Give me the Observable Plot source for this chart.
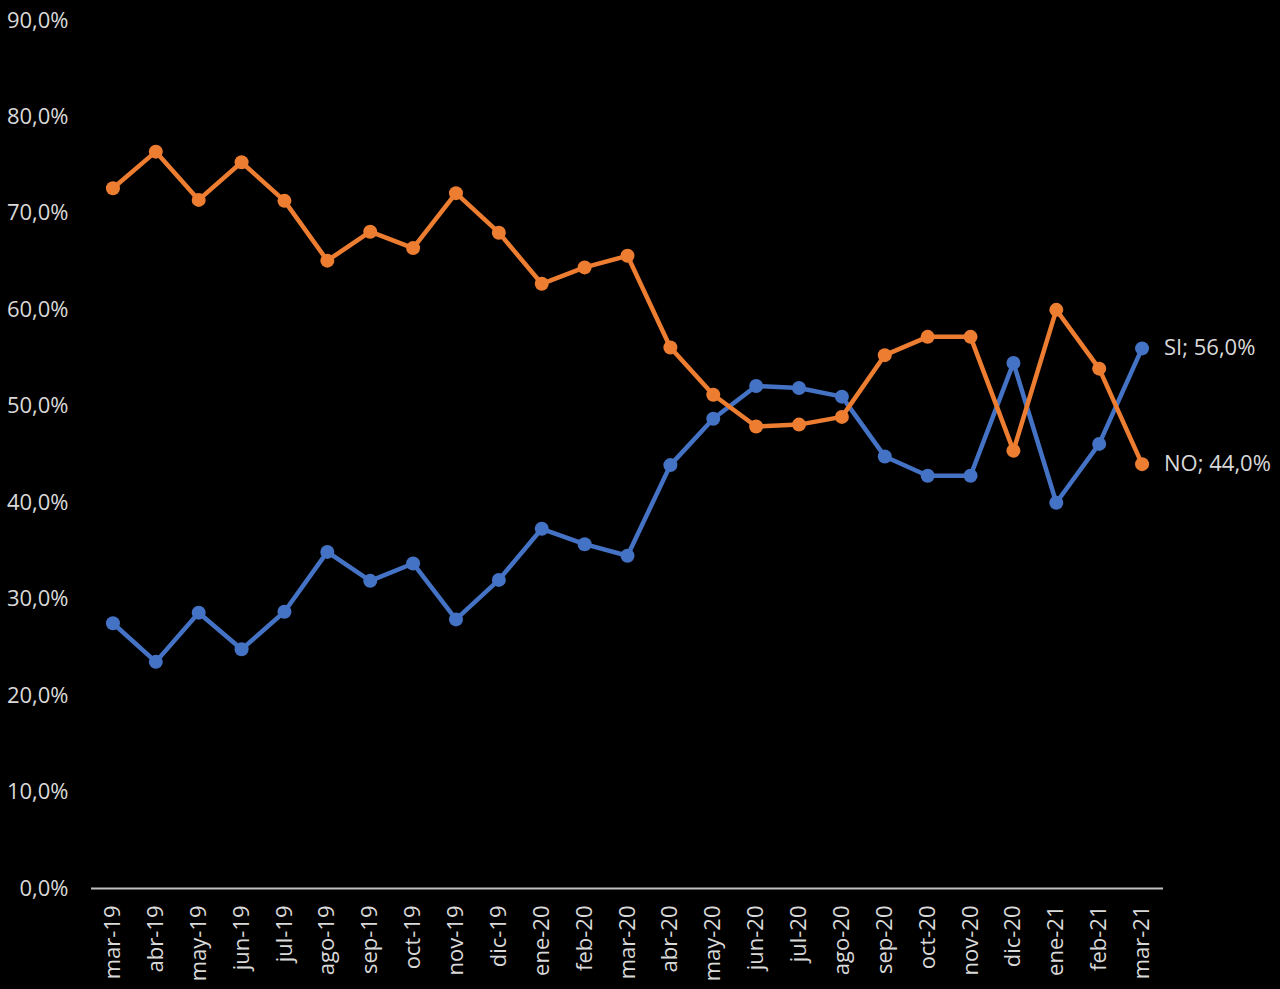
<!DOCTYPE html>
<html>
<head>
<meta charset="utf-8">
<script src="https://cdn.jsdelivr.net/npm/d3@7"></script>
<script src="https://cdn.jsdelivr.net/npm/@observablehq/plot@0.6"></script>
<style>
  html, body { margin: 0; padding: 0; background: #000; }
  #chart svg { display: block; }
</style>
</head>
<body>
<div id="chart"></div>
<script>
// Monthly poll: share answering SI vs NO
const months = ["mar-19","abr-19","may-19","jun-19","jul-19","ago-19","sep-19","oct-19","nov-19","dic-19",
  "ene-20","feb-20","mar-20","abr-20","may-20","jun-20","jul-20","ago-20","sep-20","oct-20","nov-20","dic-20",
  "ene-21","feb-21","mar-21"];
const si = [27.5,23.5,28.6,24.8,28.7,34.9,31.9,33.7,27.9,32.0,37.3,35.7,34.5,43.9,48.7,52.1,51.9,51.0,44.8,42.8,42.8,54.5,40.0,46.1,56.0];
const no = [72.6,76.4,71.4,75.3,71.3,65.1,68.1,66.4,72.1,68.0,62.7,64.4,65.6,56.1,51.2,47.9,48.1,48.9,55.3,57.2,57.2,45.4,60.0,53.9,44.0];
const yTicks = [0,10,20,30,40,50,60,70,80,90];
const seriesNames = ["SI", "NO"];
const seriesColors = ["#4472C4", "#ED7D31"];

const fmt = v => v.toFixed(1).replace(".", ",") + "%";

const rows = [];
months.forEach((m, i) => {
  rows.push({month: m, serie: "SI", value: si[i]});
  rows.push({month: m, serie: "NO", value: no[i]});
});
const last = months.length - 1;
const endLabels = [
  {month: months[last], serie: "SI", value: si[last]},
  {month: months[last], serie: "NO", value: no[last]}
];

const textColor = "#d9d9d9";
const font = "'Open Sans', Lato, sans-serif";

const chart = Plot.plot({
  width: 1280,
  height: 989,
  marginLeft: 91,
  marginRight: 117,
  marginTop: 20,
  marginBottom: 101,
  style: {background: "#000", color: textColor, fontFamily: font, fontSize: "22px"},
  x: {type: "point", domain: months, padding: 0.5, round: false, label: null},
  y: {domain: [0, 90], label: null},
  color: {domain: seriesNames, range: seriesColors},
  marks: [
    Plot.axisY({ticks: yTicks, tickFormat: fmt, tickSize: 0, tickPadding: 23, label: null,
      fill: textColor, fontSize: 22}),
    Plot.axisX({tickRotate: -90, tickSize: 0, tickPadding: 17, label: null,
      fill: textColor, fontSize: 22}),
    Plot.ruleY([0], {stroke: "#bfbfbf", strokeWidth: 2}),
    Plot.line(rows, {x: "month", y: "value", z: "serie", stroke: "serie", strokeWidth: 4.5,
      strokeLinejoin: "round", strokeLinecap: "round"}),
    Plot.dot(rows, {x: "month", y: "value", fill: "serie", r: 7}),
    Plot.text(endLabels, {x: "month", y: "value",
      text: d => `${d.serie}; ${fmt(d.value)}`,
      textAnchor: "start", dx: 22, fill: textColor, fontSize: 22})
  ]
});

document.getElementById("chart").appendChild(chart);
</script>
</body>
</html>
